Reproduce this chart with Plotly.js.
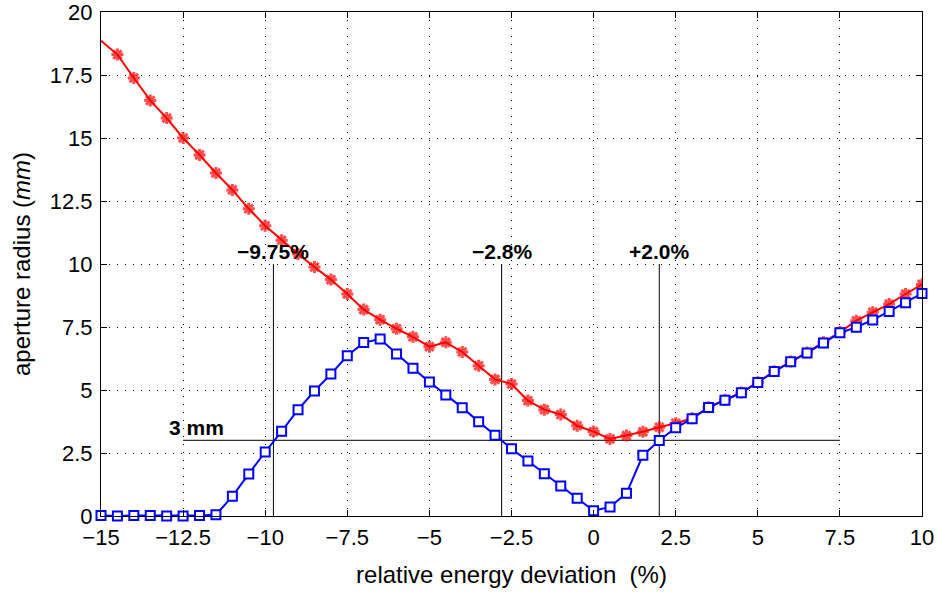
<!DOCTYPE html>
<html>
<head>
<meta charset="utf-8">
<script src="https://cdn.plot.ly/plotly-3.0.1.min.js"></script>
<style>html,body{margin:0;padding:0;background:#fff;}#chart{width:938px;height:594px;}</style>
</head>
<body>
<div id="chart"></div>
<script>
// energy deviation (%)
const deltaRed = [-15,-14.5,-14,-13.5,-13,-12.5,-12,-11.5,-11,-10.5,-10,-9.5,-9,-8.5,-8,-7.5,-7,-6.5,-6,-5.5,-5,-4.5,-4,-3.5,-3,-2.5,-2,-1.5,-1,-0.5,0,0.5,1,1.5,2,2.5,3,3.5,4,4.5,5,5.5,6,6.5,7,7.5,8,8.5,9,9.5,10];
const apertureRed = [18.86,18.31,17.38,16.49,15.79,15.0,14.33,13.61,12.94,12.19,11.52,10.94,10.40,9.88,9.38,8.81,8.19,7.79,7.43,7.11,6.72,6.89,6.51,5.96,5.42,5.24,4.58,4.22,4.03,3.58,3.35,3.06,3.19,3.34,3.52,3.68,3.88,4.32,4.61,4.90,5.31,5.74,6.13,6.49,6.89,7.30,7.75,8.09,8.41,8.81,9.19];
const deltaBlue = [-15,-14.5,-14,-13.5,-13,-12.5,-12,-11.5,-11,-10.5,-10,-9.5,-9,-8.5,-8,-7.5,-7,-6.5,-6,-5.5,-5,-4.5,-4,-3.5,-3,-2.5,-2,-1.5,-1,-0.5,0,0.5,1,1.5,2,2.5,3,3.5,4,4.5,5,5.5,6,6.5,7,7.5,8,8.5,9,9.5,10];
const apertureBlue = [0.02,0.0,0.02,0.02,0.0,0.0,0.02,0.05,0.78,1.67,2.54,3.36,4.22,4.96,5.63,6.36,6.88,7.02,6.43,5.86,5.32,4.80,4.30,3.74,3.20,2.67,2.18,1.68,1.19,0.70,0.21,0.36,0.90,2.41,3.00,3.50,3.86,4.31,4.59,4.89,5.30,5.73,6.12,6.47,6.87,7.27,7.49,7.78,8.12,8.46,8.83];

// reference markers
const limitDeltas = [-9.75, -2.8, 2.0];
const limitLabels = ['\u22129.75%', '\u22122.8%', '+2.0%'];
const limitTop = 10;
const thresholdValue = 3;
const thresholdRange = [-12.5, 7.5];
const thresholdLabel = '3 mm';
const thresholdLabelX = -12.1;

const xTicks = [-15,-12.5,-10,-7.5,-5,-2.5,0,2.5,5,7.5,10];
const yTicks = [0,2.5,5,7.5,10,12.5,15,17.5,20];

const fam = 'Liberation Sans, Arial, Helvetica, sans-serif';
const tickFont = {family: fam, size: 22, color: '#000'};
const labelFont = {family: fam, size: 21, color: '#000', weight: 'bold'};
const titleFont = {family: fam, size: 24, color: '#000'};

const traces = [];
limitDeltas.forEach(function (d) {
  traces.push({x: [d, d], y: [0, limitTop], mode: 'lines', line: {color: '#000', width: 1}, hoverinfo: 'skip', showlegend: false});
});
traces.push({x: thresholdRange, y: [thresholdValue, thresholdValue], mode: 'lines', line: {color: '#333', width: 1.2}, hoverinfo: 'skip', showlegend: false});
traces.push({
  x: deltaRed, y: apertureRed, mode: 'lines+markers', showlegend: false,
  line: {color: '#ff0000', width: 2},
  marker: {symbol: 'asterisk-open', size: deltaRed.map(function (d, i) { return i === 0 ? 0 : 10; }), color: '#ff0000', line: {color: '#ff0000', width: 3}}
});
traces.push({
  x: deltaBlue, y: apertureBlue, mode: 'lines+markers', showlegend: false, cliponaxis: false,
  line: {color: '#0000ff', width: 2},
  marker: {symbol: 'square', size: 9, color: '#ffffff', line: {color: '#0000ff', width: 2}}
});

const annotations = limitDeltas.map(function (d, i) {
  return {x: d, y: limitTop, xref: 'x', yref: 'y', text: '<b>' + limitLabels[i] + '</b>', showarrow: false, xanchor: 'center', yanchor: 'bottom', yshift: -1, font: labelFont};
});
annotations.push({x: thresholdLabelX, y: thresholdValue, xref: 'x', yref: 'y', text: '<b>' + thresholdLabel + '</b>', showarrow: false, xanchor: 'center', yanchor: 'bottom', yshift: -1, font: labelFont});

const gridCommon = {showgrid: true, gridcolor: '#000', gridwidth: 1, griddash: '1px,7px', zeroline: false, showline: true, linecolor: '#000', linewidth: 1, mirror: 'ticks', ticks: 'inside', ticklen: 6, tickcolor: '#000', tickfont: tickFont, ticklabeloverflow: 'allow'};

const layout = {
  width: 938, height: 594,
  margin: {l: 101, r: 16, t: 12, b: 78},
  paper_bgcolor: '#fff', plot_bgcolor: '#fff',
  font: {family: fam, color: '#000'},
  xaxis: Object.assign({}, gridCommon, {range: [-15, 10], tickvals: xTicks, ticklabelstandoff: 2, title: {text: 'relative energy deviation&nbsp;&nbsp;(%)', font: titleFont, standoff: 16}}),
  yaxis: Object.assign({}, gridCommon, {range: [0, 20], tickvals: yTicks, ticklabelstandoff: 3, title: {text: 'aperture radius (<i>mm</i>)', font: titleFont, standoff: 12}}),
  annotations: annotations
};

Plotly.newPlot('chart', traces, layout, {staticPlot: true});
</script>
</body>
</html>
